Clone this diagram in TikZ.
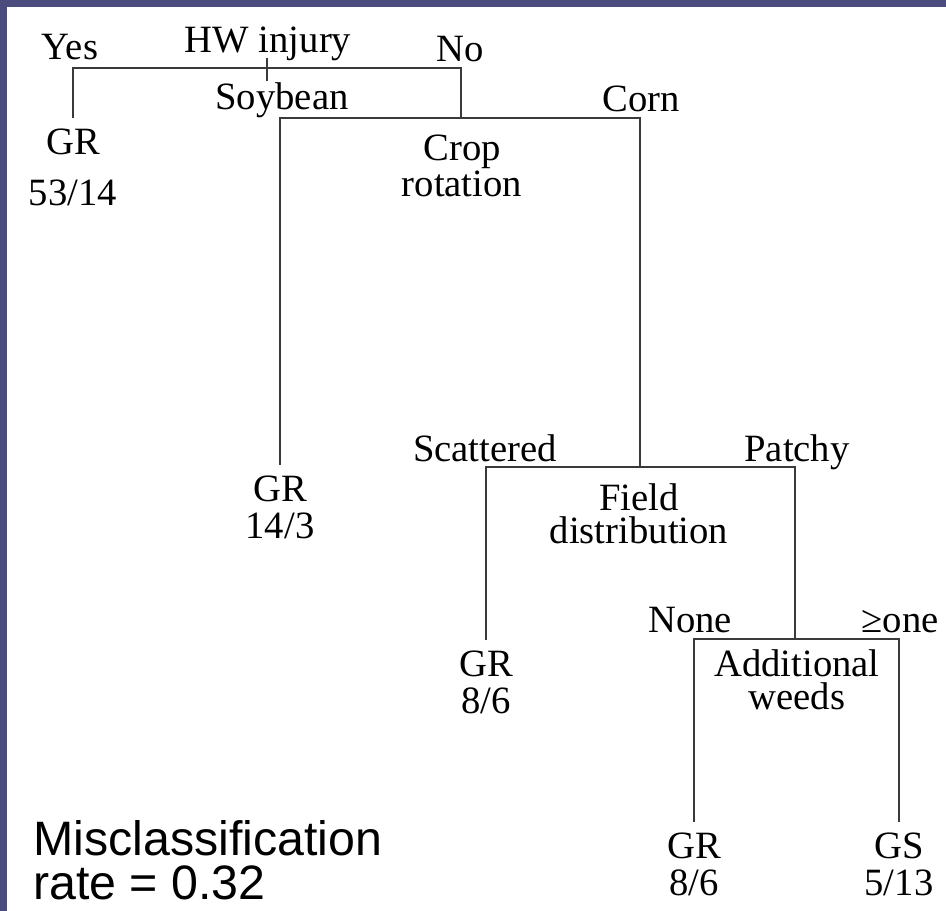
\documentclass[tikz,border=0pt]{standalone}
\usepackage{fontspec}
\setmainfont{Liberation Serif}
\newfontfamily\ratefont{Liberation Sans}
\definecolor{framepurple}{HTML}{4C4B7D}
\definecolor{treeline}{HTML}{3A3A3A}

\begin{document}
\begin{tikzpicture}[x=0.02cm, y=-0.02cm,
    every node/.style={font=\fontsize{22}{19}\selectfont, inner sep=0pt},
    branch/.style={draw=treeline, line width=1.1pt},
    edgelbl/.style={anchor=base},
    splitlbl/.style={align=center},
    leaf/.style={align=center, anchor=north, inner sep=6pt, font=\fontsize{22}{21}\selectfont}]
            \useasboundingbox (0,0) rectangle (946,911);
            % Frame strips
            \fill[framepurple] (0,0) rectangle (946,7);
            \fill[framepurple] (0,0) rectangle (7,911);

            % Split points
            \coordinate (hwsplit) at (267,68);
            \coordinate (cropsplit) at (461,118);
            \coordinate (fieldsplit) at (640,467);
            \coordinate (addsplit) at (795,639);

            % Split labels
            \node[edgelbl] (hw) at (268,53) {HW injury};
            \node[edgelbl] (yes) at (70,60) {Yes};
            \node[edgelbl] (no) at (460,62) {No};
            \node[edgelbl] (soy) at (282,110) {Soybean};
            \node[edgelbl] (corn) at (641,112) {Corn};
            \node[splitlbl] (crop) at (462,166) {Crop\\rotation};
            \node[edgelbl] (scat) at (485,462) {Scattered};
            \node[edgelbl] (patchy) at (797,462) {Patchy};
            \node[splitlbl] (field) at (639,514) {Field\\distribution};
            \node[edgelbl] (none) at (690,632) {None};
            \node[edgelbl] (geone) at (900,632) {≥one};
            \node[splitlbl] (add) at (797,680) {Additional\\weeds};

            % Leaves
            \node[leaf] (leafA) at (73,118) {GR\\[8pt]53/14};
            \node[leaf] (leafB) at (280,465) {GR\\14/3};
            \node[leaf] (leafC) at (486,640) {GR\\8/6};
            \node[leaf] (leafD) at (694,822) {GR\\8/6};
            \node[leaf] (leafE) at (899,822) {GS\\5/13};

            % Branches
            \draw[branch] (leafA.north) |- (hwsplit) -| (cropsplit);
            \draw[branch] (hwsplit) ++(0,-10) -- ++(0,23);
            \draw[branch] (leafB.north) |- (cropsplit) -| (fieldsplit);
            \draw[branch] (leafC.north) |- (fieldsplit) -| (addsplit);
            \draw[branch] (leafD.north) |- (addsplit) -| (leafE.north);

            % Error rate
            \node[anchor=west, align=left, font=\ratefont\fontsize{27.5}{25}\selectfont] (rate) at (33,860)
                {Misclassification\\rate = 0.32};
        \end{tikzpicture}
\end{document}
